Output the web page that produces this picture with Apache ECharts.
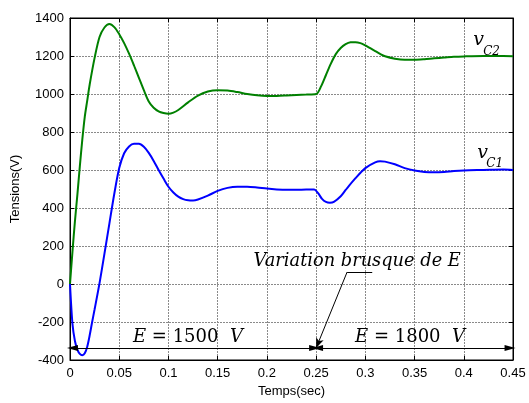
<!DOCTYPE html>
<html>
<head>
<meta charset="utf-8">
<script src="https://cdn.jsdelivr.net/npm/echarts@6/dist/echarts.min.js"></script>
<style>
  html, body { margin: 0; padding: 0; background: #fff; }
  #chart { width: 529px; height: 403px; }
</style>
</head>
<body>
<div id="chart"></div>
<script>
// vC2 (green)
const tC2 = [0, 0.0025, 0.005, 0.0075, 0.01, 0.0125, 0.015, 0.0175, 0.02, 0.025, 0.03, 0.035, 0.04, 0.045,
  0.05, 0.055, 0.06, 0.065, 0.07, 0.075, 0.08, 0.085, 0.09, 0.095, 0.1, 0.105, 0.11, 0.12, 0.13, 0.14,
  0.15, 0.16, 0.17, 0.18, 0.19, 0.2, 0.21, 0.22, 0.23, 0.24, 0.25, 0.255, 0.26, 0.265, 0.27, 0.275,
  0.28, 0.285, 0.29, 0.295, 0.3, 0.305, 0.31, 0.315, 0.32, 0.33, 0.34, 0.35, 0.36, 0.37, 0.38, 0.39,
  0.4, 0.42, 0.44, 0.45]
const vC2 = [0, 170, 330, 470, 620, 760, 880, 965, 1050, 1190, 1300, 1350, 1368, 1352,
  1315, 1268, 1212, 1150, 1085, 1020, 961, 928, 909, 900, 896, 902, 916, 956, 992, 1013,
  1020, 1018, 1010, 1000, 993, 990, 990, 992, 995, 997, 1000, 1040, 1100, 1160, 1210, 1242,
  1262, 1272, 1273, 1268, 1256, 1241, 1226, 1211, 1199, 1186, 1180, 1180, 1183, 1188, 1192, 1196,
  1198, 1200, 1200, 1199]

// vC1 (blue)
const tC1 = [0, 0.0025, 0.005, 0.0075, 0.01, 0.0125, 0.015, 0.0175, 0.02, 0.0225, 0.025, 0.03, 0.035, 0.04, 0.045,
  0.05, 0.055, 0.06, 0.065, 0.07, 0.075, 0.08, 0.085, 0.09, 0.095, 0.1, 0.105, 0.11, 0.115, 0.12, 0.125,
  0.13, 0.14, 0.15, 0.16, 0.17, 0.18, 0.19, 0.2, 0.21, 0.22, 0.23, 0.24, 0.248, 0.252, 0.256, 0.26,
  0.264, 0.268, 0.275, 0.28, 0.29, 0.3, 0.31, 0.315, 0.32, 0.33, 0.34, 0.35, 0.36, 0.37, 0.38, 0.39,
  0.4, 0.42, 0.44, 0.45]
const vC1 = [0, -210, -300, -345, -368, -375, -365, -330, -270, -200, -133, 5, 160, 318, 475,
  610, 688, 724, 738, 738, 722, 690, 648, 600, 555, 512, 482, 460, 447, 441, 440,
  445, 465, 490, 506, 512, 512, 508, 502, 498, 496, 496, 497, 497, 478, 448, 432,
  428, 432, 462, 495, 557, 610, 640, 646, 644, 630, 610, 597, 590, 588, 590, 595,
  598, 600, 602, 600]

const xTicks = [0, 0.45, 0.05]
const yTicks = [-400, 1400, 200]

// annotations (data coords)
const arrowY = -337
const switchT = 0.25
const leader = [[0.307, 63], [0.2815, 63], [0.25, -337]]

const chart = echarts.init(document.getElementById('chart'))

const axisCommon = {
  axisLine: { show: true, onZero: false, lineStyle: { color: '#000', width: 1 } },
  axisTick: { show: true, inside: true, length: 4, lineStyle: { color: '#000' } },
}
const gridLine = { show: true, lineStyle: { color: '#8a8a8a', type: [2, 1], width: 1 } }
const labelFont = { fontFamily: 'Liberation Sans', fontSize: 13, color: '#000' }

const option = {
  animation: false,
  grid: { left: 70, right: 16, top: 18, bottom: 43, show: true, borderColor: '#000', borderWidth: 1 },
  xAxis: [
    {
      type: 'value', min: xTicks[0], max: xTicks[1], interval: xTicks[2],
      name: 'Temps(sec)', nameLocation: 'middle', nameGap: 25, nameTextStyle: labelFont,
      ...axisCommon,
      axisLabel: { ...labelFont, margin: 7, formatter: v => String(+v.toFixed(2)) },
      splitLine: gridLine,
    },
    {
      type: 'value', position: 'top', min: xTicks[0], max: xTicks[1], interval: xTicks[2],
      ...axisCommon, axisLabel: { show: false }, splitLine: { show: false },
    },
  ],
  yAxis: [
    {
      type: 'value', min: yTicks[0], max: yTicks[1], interval: yTicks[2],
      name: 'Tensions(V)', nameLocation: 'middle', nameGap: 48, nameRotate: 90, nameTextStyle: labelFont,
      ...axisCommon,
      axisLabel: { ...labelFont, margin: 6, formatter: v => String(v) },
      splitLine: gridLine,
    },
    {
      type: 'value', position: 'right', min: yTicks[0], max: yTicks[1], interval: yTicks[2],
      ...axisCommon, axisLabel: { show: false }, splitLine: { show: false },
    },
  ],
  series: [
    {
      name: 'vC2', type: 'line', smooth: 0.3, showSymbol: false,
      data: tC2.map((t, i) => [t, vC2[i]]),
      lineStyle: { color: '#008000', width: 2 },
    },
    {
      name: 'vC1', type: 'line', smooth: 0.3, showSymbol: false,
      data: tC1.map((t, i) => [t, vC1[i]]),
      lineStyle: { color: '#0000ff', width: 2 },
      markLine: {
        silent: true, animation: false,
        symbol: ['none', 'none'],
        label: { show: false },
        lineStyle: { color: '#000', width: 1, type: 'solid' },
        data: [
          [{ coord: [switchT, arrowY], symbol: 'none' }, { coord: [0.0025, arrowY], symbol: 'triangle', symbolRotate: 90, symbolSize: [6, 11] }],
          [{ coord: [switchT, arrowY], symbol: 'none' }, { coord: [0.2485, arrowY], symbol: 'triangle', symbolRotate: -90, symbolSize: [6, 11] }],
          [{ coord: [switchT, arrowY], symbol: 'none' }, { coord: [0.2515, arrowY], symbol: 'triangle', symbolRotate: 90, symbolSize: [6, 11] }],
          [{ coord: [switchT, arrowY], symbol: 'none' }, { coord: [0.447, arrowY], symbol: 'triangle', symbolRotate: -90, symbolSize: [6, 11] }],
          [{ coord: leader[0], symbol: 'none' }, { coord: leader[1], symbol: 'none' }],
          [{ coord: leader[1], symbol: 'none' }, { coord: leader[2], symbol: 'arrow', symbolSize: [6, 10] }],
        ],
      },
    },
  ],
}

chart.setOption(option)

// text annotations placed from data coords
const serif = 'DejaVu Serif'
const px = (t, v) => chart.convertToPixel({ gridIndex: 0 }, [t, v])
const txt = (t, v, text, size, italic, align) => {
  const p = px(t, v)
  return {
    type: 'text', x: p[0], y: p[1],
    style: { text, fill: '#000', font: `${italic ? 'italic ' : ''}${size}px "${serif}"`, textAlign: align || 'left', textVerticalAlign: 'middle' },
  }
}
const eqText = (t, v, num) => {
  const p = px(t, v)
  return {
    type: 'text', x: p[0], y: p[1],
    style: {
      text: `{i|E} = ${num}  {i|V}`, fill: '#000', font: `18px "${serif}"`, textVerticalAlign: 'middle',
      rich: { i: { fontFamily: serif, fontStyle: 'italic', fontSize: 18 } },
    },
  }
}

chart.setOption({
  graphic: [
    txt(0.4096, 1285, 'v', 19, true),
    txt(0.4197, 1222, 'C2', 12, true),
    txt(0.4136, 690, 'v', 19, true),
    txt(0.4228, 632, 'C1', 12, true),
    txt(0.2917, 118, 'Variation brusque de E', 17.8, true, 'center'),
    eqText(0.064, -280, '1500'),
    eqText(0.2896, -280, '1800'),
  ],
})
</script>
</body>
</html>
